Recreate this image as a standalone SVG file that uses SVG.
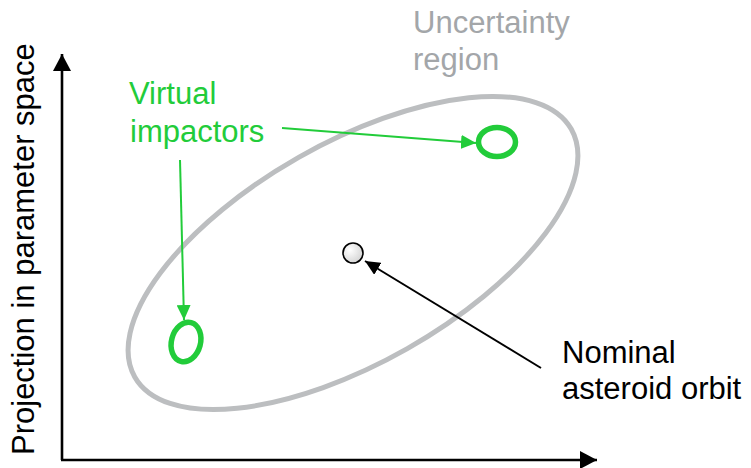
<svg xmlns="http://www.w3.org/2000/svg" width="751" height="468" viewBox="0 0 751 468">
<style>
.t{font-family:"Liberation Sans",Arial,sans-serif;font-size:31px}
.blk{fill:#000}
.grn{fill:#22cc3a}
.gry{fill:#a3a6a9}
.axis{stroke:#000;stroke-width:2.6;fill:none}
.garrow{stroke:#22cc3a;stroke-width:2;fill:none}
.vi{fill:none;stroke:#22cc3a;stroke-width:5.5}
</style>
<defs>
<marker id="ah" markerUnits="userSpaceOnUse" markerWidth="18" markerHeight="18" refX="17" refY="9" orient="auto"><path d="M0,0 L17,9 L0,18 Z" fill="#000"/></marker>
<marker id="ahs" markerUnits="userSpaceOnUse" markerWidth="16" markerHeight="14" refX="15" refY="7" orient="auto"><path d="M0,0 L15,7 L0,14 Z" fill="#000"/></marker>
<marker id="ag" markerUnits="userSpaceOnUse" markerWidth="16" markerHeight="14" refX="15" refY="7" orient="auto"><path d="M0,0 L15,7 L0,14 Z" fill="#22cc3a"/></marker>
<radialGradient id="nom" cx="0.35" cy="0.35" r="0.7"><stop offset="0" stop-color="#ffffff"/><stop offset="1" stop-color="#d4d4d4"/></radialGradient>
</defs>
<g id="axes">
<path class="axis" d="M62,460 L62,54" marker-end="url(#ah)"/>
<path class="axis" d="M61,460 L597,460" marker-end="url(#ah)"/>
</g>
<g id="y-label"><text class="t blk" transform="translate(34,455) rotate(-90)">Projection in parameter space</text></g>
<g id="uncertainty-region">
<ellipse cx="353" cy="253" rx="251" ry="110" transform="rotate(-29.6 353 253)" fill="none" stroke="#bcbec0" stroke-width="5"/>
<text class="t gry" x="413" y="33">Uncertainty</text>
<text class="t gry" x="413" y="70">region</text>
</g>
<g id="vi-upper"><ellipse class="vi" cx="497" cy="142" rx="18.5" ry="14.5"/></g>
<g id="vi-lower"><ellipse class="vi" cx="186" cy="342" rx="14.5" ry="20" transform="rotate(15 186 342)"/></g>
<g id="nominal"><circle cx="353" cy="253" r="10" fill="url(#nom)" stroke="#000" stroke-width="1.6"/></g>
<g id="vi-label">
<text class="t grn" x="129" y="104">Virtual</text>
<text class="t grn" x="130" y="142">impactors</text>
</g>
<g id="nominal-label">
<text class="t blk" x="562" y="363">Nominal</text>
<text class="t blk" x="562" y="399">asteroid orbit</text>
</g>
<g id="connectors">
<path class="garrow" d="M282,128 L476,143" marker-end="url(#ag)"/>
<path class="garrow" d="M180,160 L184,320" marker-end="url(#ag)"/>
<path d="M541,368 L365,261" stroke="#000" stroke-width="2" fill="none" marker-end="url(#ahs)"/>
</g>
</svg>
